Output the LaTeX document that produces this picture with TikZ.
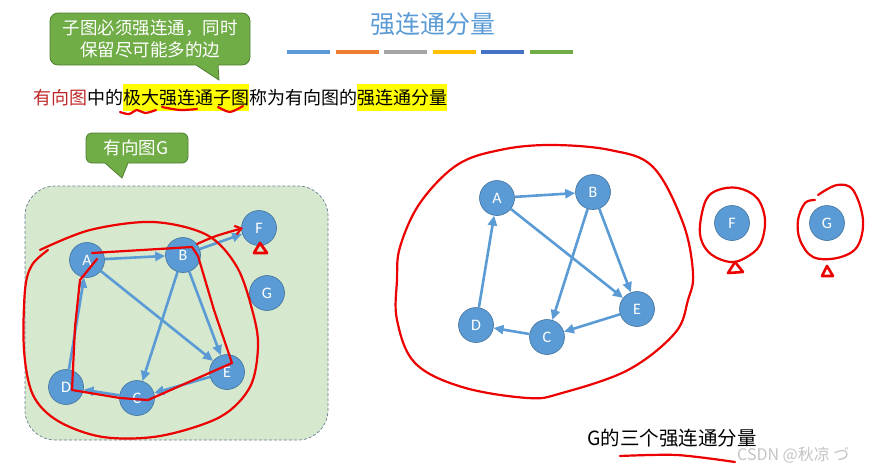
\documentclass[tikz,border=0pt]{standalone}
\usepackage{fontspec}
\setmainfont{Noto Sans CJK SC}
\newfontfamily\latfont{Carlito}
\usetikzlibrary{arrows.meta}
\definecolor{titleblue}{RGB}{91,155,213}
\definecolor{nodeblue}{RGB}{91,155,213}
\definecolor{nodeline}{RGB}{65,113,156}
\definecolor{calloutgreen}{RGB}{112,173,71}
\definecolor{calloutline}{RGB}{80,126,50}
\definecolor{panelgreen}{RGB}{214,232,206}
\definecolor{panelline}{RGB}{105,125,150}
\definecolor{penred}{RGB}{236,0,0}
\definecolor{termred}{RGB}{192,40,40}
\definecolor{hlyellow}{RGB}{255,255,0}
\definecolor{markgray}{RGB}{195,195,195}
\definecolor{barA}{RGB}{91,155,213}
\definecolor{barB}{RGB}{237,125,49}
\definecolor{barC}{RGB}{165,165,165}
\definecolor{barD}{RGB}{255,192,0}
\definecolor{barE}{RGB}{68,114,196}
\definecolor{barF}{RGB}{112,173,71}
\newcommand\hlword[1]{{\setlength\fboxsep{0pt}\colorbox{hlyellow}{\rule[-6pt]{0pt}{27pt}#1}}}
\tikzset{
  vertex/.style={circle,fill=nodeblue,draw=nodeline,line width=0.6pt,minimum size=35pt,inner sep=0pt,text=white,font=\latfont\fontsize{16}{16}\selectfont},
  edge/.style={draw=nodeblue,line width=2.6pt,-{Triangle[length=10pt,width=9pt]}},
  pen/.style={draw=penred,line width=2.2pt,line cap=round,line join=round},
  callout/.style={fill=calloutgreen,draw=calloutline,line width=0.8pt},
  callouttext/.style={text=white,align=center,font=\fontsize{17.5}{22}\selectfont}
}
\begin{document}
\begin{tikzpicture}[x=1pt,y=-1pt]
\useasboundingbox (0,0) rectangle (869,469);
\def\barw{43}
\def\bargap{48.5}
\node[font=\fontsize{25}{25}\selectfont,text=titleblue] (title) at (433,24) {强连通分量};
\foreach \c [count=\i from 0] in {barA,barB,barC,barD,barE,barF}
  \fill[\c] (287+\i*\bargap,50) rectangle ++(\barw,4);
\draw[callout] (219,80) -- (196,65) [rounded corners=8pt] -- (50,65) -- (50,13) -- (250,13) -- (250,65) [sharp corners] -- (218,65) -- cycle;
\node[callouttext] (hint) at (150,39) {子图必须强连通，同时\\保留尽可能多的边};
\node[anchor=west,inner sep=0pt,font=\fontsize{18}{22}\selectfont] (defline) at (33,97) {\textcolor{termred}{有向图}中的\hlword{极大强连通子图}称为有向图的\hlword{强连通分量}};
\draw[pen] plot[smooth,tension=0.6] coordinates {(120,112) (129,114) (137,110) (145,113) (156,110)};
\draw[pen] plot[smooth] coordinates {(162,107) (180,110) (197,109)};
\draw[pen] plot[smooth] coordinates {(218,107) (230,112) (243,106)};
\draw[callout] (122,178) -- (105,163) [rounded corners=6pt] -- (86,163) -- (86,133) -- (188,133) -- (188,163) [sharp corners] -- (128,163) -- cycle;
\node[callouttext] (gname) at (136,148) {有向图G};
\draw[fill=panelgreen,draw=panelline,dash pattern=on 3pt off 2pt,line width=0.7pt,rounded corners=30pt] (25,186) rectangle (328,440);
\node[vertex] (lA) at (87,260) {A};
\node[vertex] (lB) at (183,255) {B};
\node[vertex] (lC) at (137,398) {C};
\node[vertex] (lD) at (66,387) {D};
\node[vertex] (lE) at (227,372) {E};
\node[vertex] (lF) at (259,228) {F};
\node[vertex] (lG) at (267,293) {G};
\draw[edge] (lA) -- (lB);
\draw[edge] (lA) -- (lE);
\draw[edge] (lB) -- (lC);
\draw[edge] (lB) -- (lE);
\draw[edge] (lB) -- (lF);
\draw[edge] (lE) -- (lC);
\draw[edge] (lC) -- (lD);
\draw[edge] (lD) -- (lA);
\draw[pen] plot[smooth,tension=0.55] coordinates {(40,250) (90,230) (153,222) (207,235) (237,267) (253,313) (258,347) (250,387) (220,417) (160,436) (103,437) (58,421) (33,395) (24,350) (25,290) (32,265) (48,250)};
\draw[pen] (92,253) -- (192,247) -- (198,256) -- (214,310) -- (232,363) -- (148,400) -- (120,398) -- (72,390) -- (75,327) -- (80,280) -- (97,259);
\draw[pen,-{Straight Barb[length=6pt,width=9pt]}] (197,244) .. controls (215,236) .. (243,228);
\draw[pen,line width=2.8pt] (254,253) -- (260,243) -- (267,253) -- cycle;
\node[vertex] (rA) at (497,198) {A};
\node[vertex] (rB) at (593,192) {B};
\node[vertex] (rC) at (547,337) {C};
\node[vertex] (rD) at (476,325) {D};
\node[vertex] (rE) at (637,309) {E};
\node[vertex] (rF) at (732,223) {F};
\node[vertex] (rG) at (827,223) {G};
\draw[edge] (rA) -- (rB);
\draw[edge] (rA) -- (rE);
\draw[edge] (rB) -- (rC);
\draw[edge] (rB) -- (rE);
\draw[edge] (rE) -- (rC);
\draw[edge] (rC) -- (rD);
\draw[edge] (rD) -- (rA);
\draw[pen] plot[smooth cycle,tension=0.6] coordinates {(400,247) (420,203) (457,165) (500,150) (550,145) (610,150) (653,167) (683,223) (693,273) (688,300) (675,333) (628,370) (562,393) (528,398) (462,387) (415,363) (397,320) (397,280)};
\draw[pen] plot[smooth cycle,tension=0.6] coordinates {(700,225) (706,200) (718,190) (738,188) (757,198) (765,220) (760,245) (745,258) (730,262) (712,255) (702,242)};
\draw[pen,line width=2.6pt] (728,273) -- (735,262) -- (743,272) -- cycle;
\draw[pen] plot[smooth,tension=0.6] coordinates {(818,195) (837,185) (853,190) (863,220) (857,247) (837,258) (813,257) (800,240) (798,220) (805,203) (815,200)};
\draw[pen,line width=2.6pt] (822,276) -- (827,266) -- (833,276) -- cycle;
\node[anchor=west,inner sep=0pt,font=\fontsize{19.5}{22}\selectfont] (summary) at (587,438) {G的三个强连通分量};
\draw[pen] plot[smooth] coordinates {(620,456) (677,455) (735,462)};
\node[anchor=west,inner sep=0pt,text=markgray,font=\fontsize{16}{16}\selectfont] (mark) at (737,455) {CSDN @秋凉 づ};
\end{tikzpicture}
\end{document}
